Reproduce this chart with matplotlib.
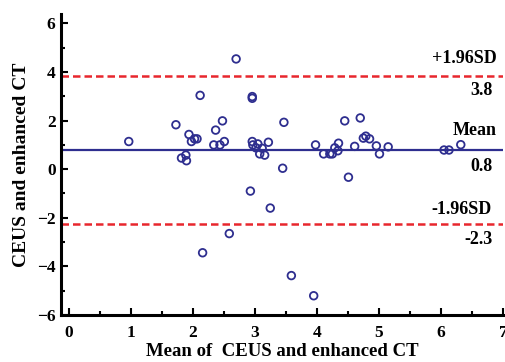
import matplotlib.pyplot as plt
from matplotlib.ticker import MultipleLocator

plt.rcParams['font.family'] = ['Liberation Serif', 'DejaVu Serif']
plt.rcParams['font.weight'] = 'bold'

# Bland-Altman: mean of two methods vs difference
mean_vals = [0.97, 1.73, 1.82, 1.89, 1.90, 1.94, 1.98, 2.03, 2.07, 2.12,
             2.16, 2.34, 2.37, 2.44, 2.48, 2.51, 2.59, 2.70, 2.93, 2.96,
             2.96, 2.96, 2.97, 3.02, 3.05, 3.08, 3.12, 3.16, 3.22, 3.25,
             3.45, 3.47, 3.59, 3.95, 3.98, 4.11, 4.21, 4.25, 4.29, 4.34,
             4.35, 4.45, 4.51, 4.61, 4.70, 4.75, 4.79, 4.85, 4.96, 5.01,
             5.15, 6.05, 6.13, 6.32]
diff_vals = [1.14, 1.83, 0.46, 0.58, 0.35, 1.43, 1.14, 1.25, 1.25, 3.04,
             -3.44, 1.00, 1.61, 1.00, 1.99, 1.14, -2.65, 4.54, -0.90, 2.99,
             2.92, 1.14, 1.00, 0.88, 1.04, 0.63, 0.86, 0.58, 1.11, -1.60,
             0.04, 1.93, -4.38, -5.21, 1.00, 0.63, 0.63, 0.63, 0.88, 0.76,
             1.07, 1.99, -0.33, 0.94, 2.11, 1.28, 1.36, 1.25, 0.96, 0.63,
             0.92, 0.79, 0.79, 1.01]

mean_diff = 0.78
upper = 3.82
lower = -2.25

blue = '#2e2e8f'
red = '#e8262d'

fig = plt.figure(figsize=(5.05, 3.62), dpi=100)
ax = fig.add_axes([0.121, 0.13, 0.875, 0.832])

ax.axhline(upper, color=red, linestyle='--', linewidth=1.8, dashes=(3, 1.6))
ax.axhline(lower, color=red, linestyle='--', linewidth=1.8, dashes=(3, 1.6))
ax.axhline(mean_diff, color=blue, linewidth=1.6)
ax.scatter(mean_vals, diff_vals, s=30, facecolors='none', edgecolors=blue,
           linewidths=1.3, zorder=3)

ax.set_xlim(-0.12, 7)
ax.set_ylim(-6, 6.4)
ax.xaxis.set_major_locator(MultipleLocator(1))
ax.xaxis.set_minor_locator(MultipleLocator(0.5))
ax.yaxis.set_major_locator(MultipleLocator(2))
ax.yaxis.set_minor_locator(MultipleLocator(1))
ax.tick_params(which='both', direction='in', width=1.5, labelsize=12.5, pad=4)
ax.tick_params(axis='x', which='both', pad=7)
ax.tick_params(which='major', length=5)
ax.tick_params(which='minor', length=3)
ax.spines['top'].set_visible(False)
ax.spines['right'].set_visible(False)
for s in ('left', 'bottom'):
    ax.spines[s].set_linewidth(2.2)

ax.set_xlabel('Mean of  CEUS and enhanced CT', fontsize=13.5, fontweight='bold', labelpad=2)
ax.set_ylabel('CEUS and enhanced CT', fontsize=14, fontweight='bold', labelpad=5)

labels = [('+1.96SD', 6.90, upper, 13), ('3.8', 6.84, upper, -10),
          ('Mean', 6.89, mean_diff, 14.5), ('0.8', 6.84, mean_diff, -11.5),
          ('-1.96SD', 6.82, lower, 10), ('-2.3', 6.84, lower, -11)]
for txt, x, y, dy in labels:
    ax.annotate(txt, (x, y), xytext=(0, dy), textcoords='offset points',
                ha='right', va='center', fontsize=13, fontweight='bold')

fig.savefig('out.png', dpi=100)
